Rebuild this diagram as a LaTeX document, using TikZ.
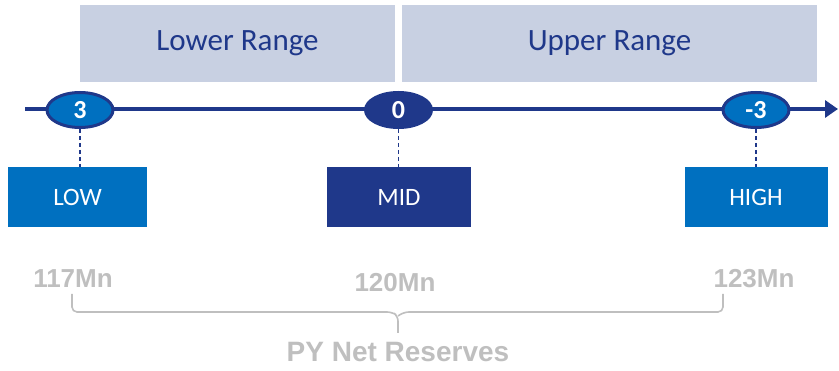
\documentclass[tikz,border=0pt]{standalone}
\usepackage{fontspec}
\setmainfont{Carlito}
\newfontfamily\arialf{Liberation Sans}
\usetikzlibrary{shapes.geometric,arrows.meta}
\definecolor{navy}{RGB}{31,56,138}
\definecolor{midblue}{RGB}{0,112,192}
\definecolor{lightbox}{RGB}{200,208,226}
\definecolor{greytxt}{RGB}{191,191,191}
\tikzset{
  rangebox/.style={fill=lightbox, draw=none, inner sep=0pt, text=navy, font=\fontsize{31}{36}\selectfont},
  marker/.style={ellipse, draw=navy, line width=3pt, minimum width=66pt, minimum height=35pt, inner sep=0pt, text=white, font=\fontsize{26}{30}\selectfont\bfseries},
  levelbox/.style={draw=none, inner sep=0pt, text=white, font=\fontsize{25}{30}\selectfont},
  amount/.style={text=greytxt, font=\arialf\fontsize{26}{30}\selectfont\bfseries, inner sep=0pt, anchor=base},
  guide/.style={draw=navy, line width=1.3pt, dash pattern=on 4pt off 3pt},
  bracket/.style={draw=greytxt, line width=1.6pt, rounded corners=5pt}
}
\begin{document}
\begin{tikzpicture}[x=1pt,y=-1pt]
\useasboundingbox (0,0) rectangle (839,371);
% range boxes
\node[rangebox, minimum width=315pt, minimum height=77pt] (lower) at (237.5,43.5) {Lower Range};
\node[rangebox, minimum width=415pt, minimum height=77pt] (upper) at (609.5,43.5) {Upper Range};
% axis
\coordinate (axs) at (25,109);
\coordinate (axe) at (838,109);
\draw[navy, line width=4.5pt, -{Triangle[length=13pt,width=17pt]}] (axs) -- (axe);
% markers
\node[marker, fill=midblue] (m3) at (80,110) {3};
\node[marker, fill=navy] (m0) at (398.5,110) {0};
\node[marker, fill=midblue] (mm3) at (756,110) {-3};
% level boxes
\node[levelbox, fill=midblue, minimum width=139pt, minimum height=60pt] (low) at (77.5,197.5) {LOW};
\node[levelbox, fill=navy, minimum width=144pt, minimum height=60pt] (mid) at (399,197.5) {MID};
\node[levelbox, fill=midblue, minimum width=143pt, minimum height=60pt] (high) at (756,197.5) {HIGH};
% dashed guides
\draw[guide] (m3.south) -- (m3.south |- low.north);
\draw[guide] (m0.south) -- (m0.south |- mid.north);
\draw[guide] (mm3.south) -- (mm3.south |- high.north);
% amounts
\node[amount] (a117) at (73,288) {117Mn};
\node[amount] (a120) at (395,292) {120Mn};
\node[amount] (a123) at (754,288) {123Mn};
% bracket
\coordinate (bl) at (72,294);
\coordinate (br) at (723,294);
\coordinate (bm) at (398,333);
\draw[bracket] (bl) -- (72,312) -- (392,312) -- (398,316) -- (bm);
\draw[bracket] (br) -- (723,312) -- (404,312) -- (398,316);
\node[text=greytxt, font=\arialf\fontsize{28}{32}\selectfont\bfseries, inner sep=0pt, anchor=base] (py) at (398,361.5) {PY Net Reserves};
\end{tikzpicture}
\end{document}
